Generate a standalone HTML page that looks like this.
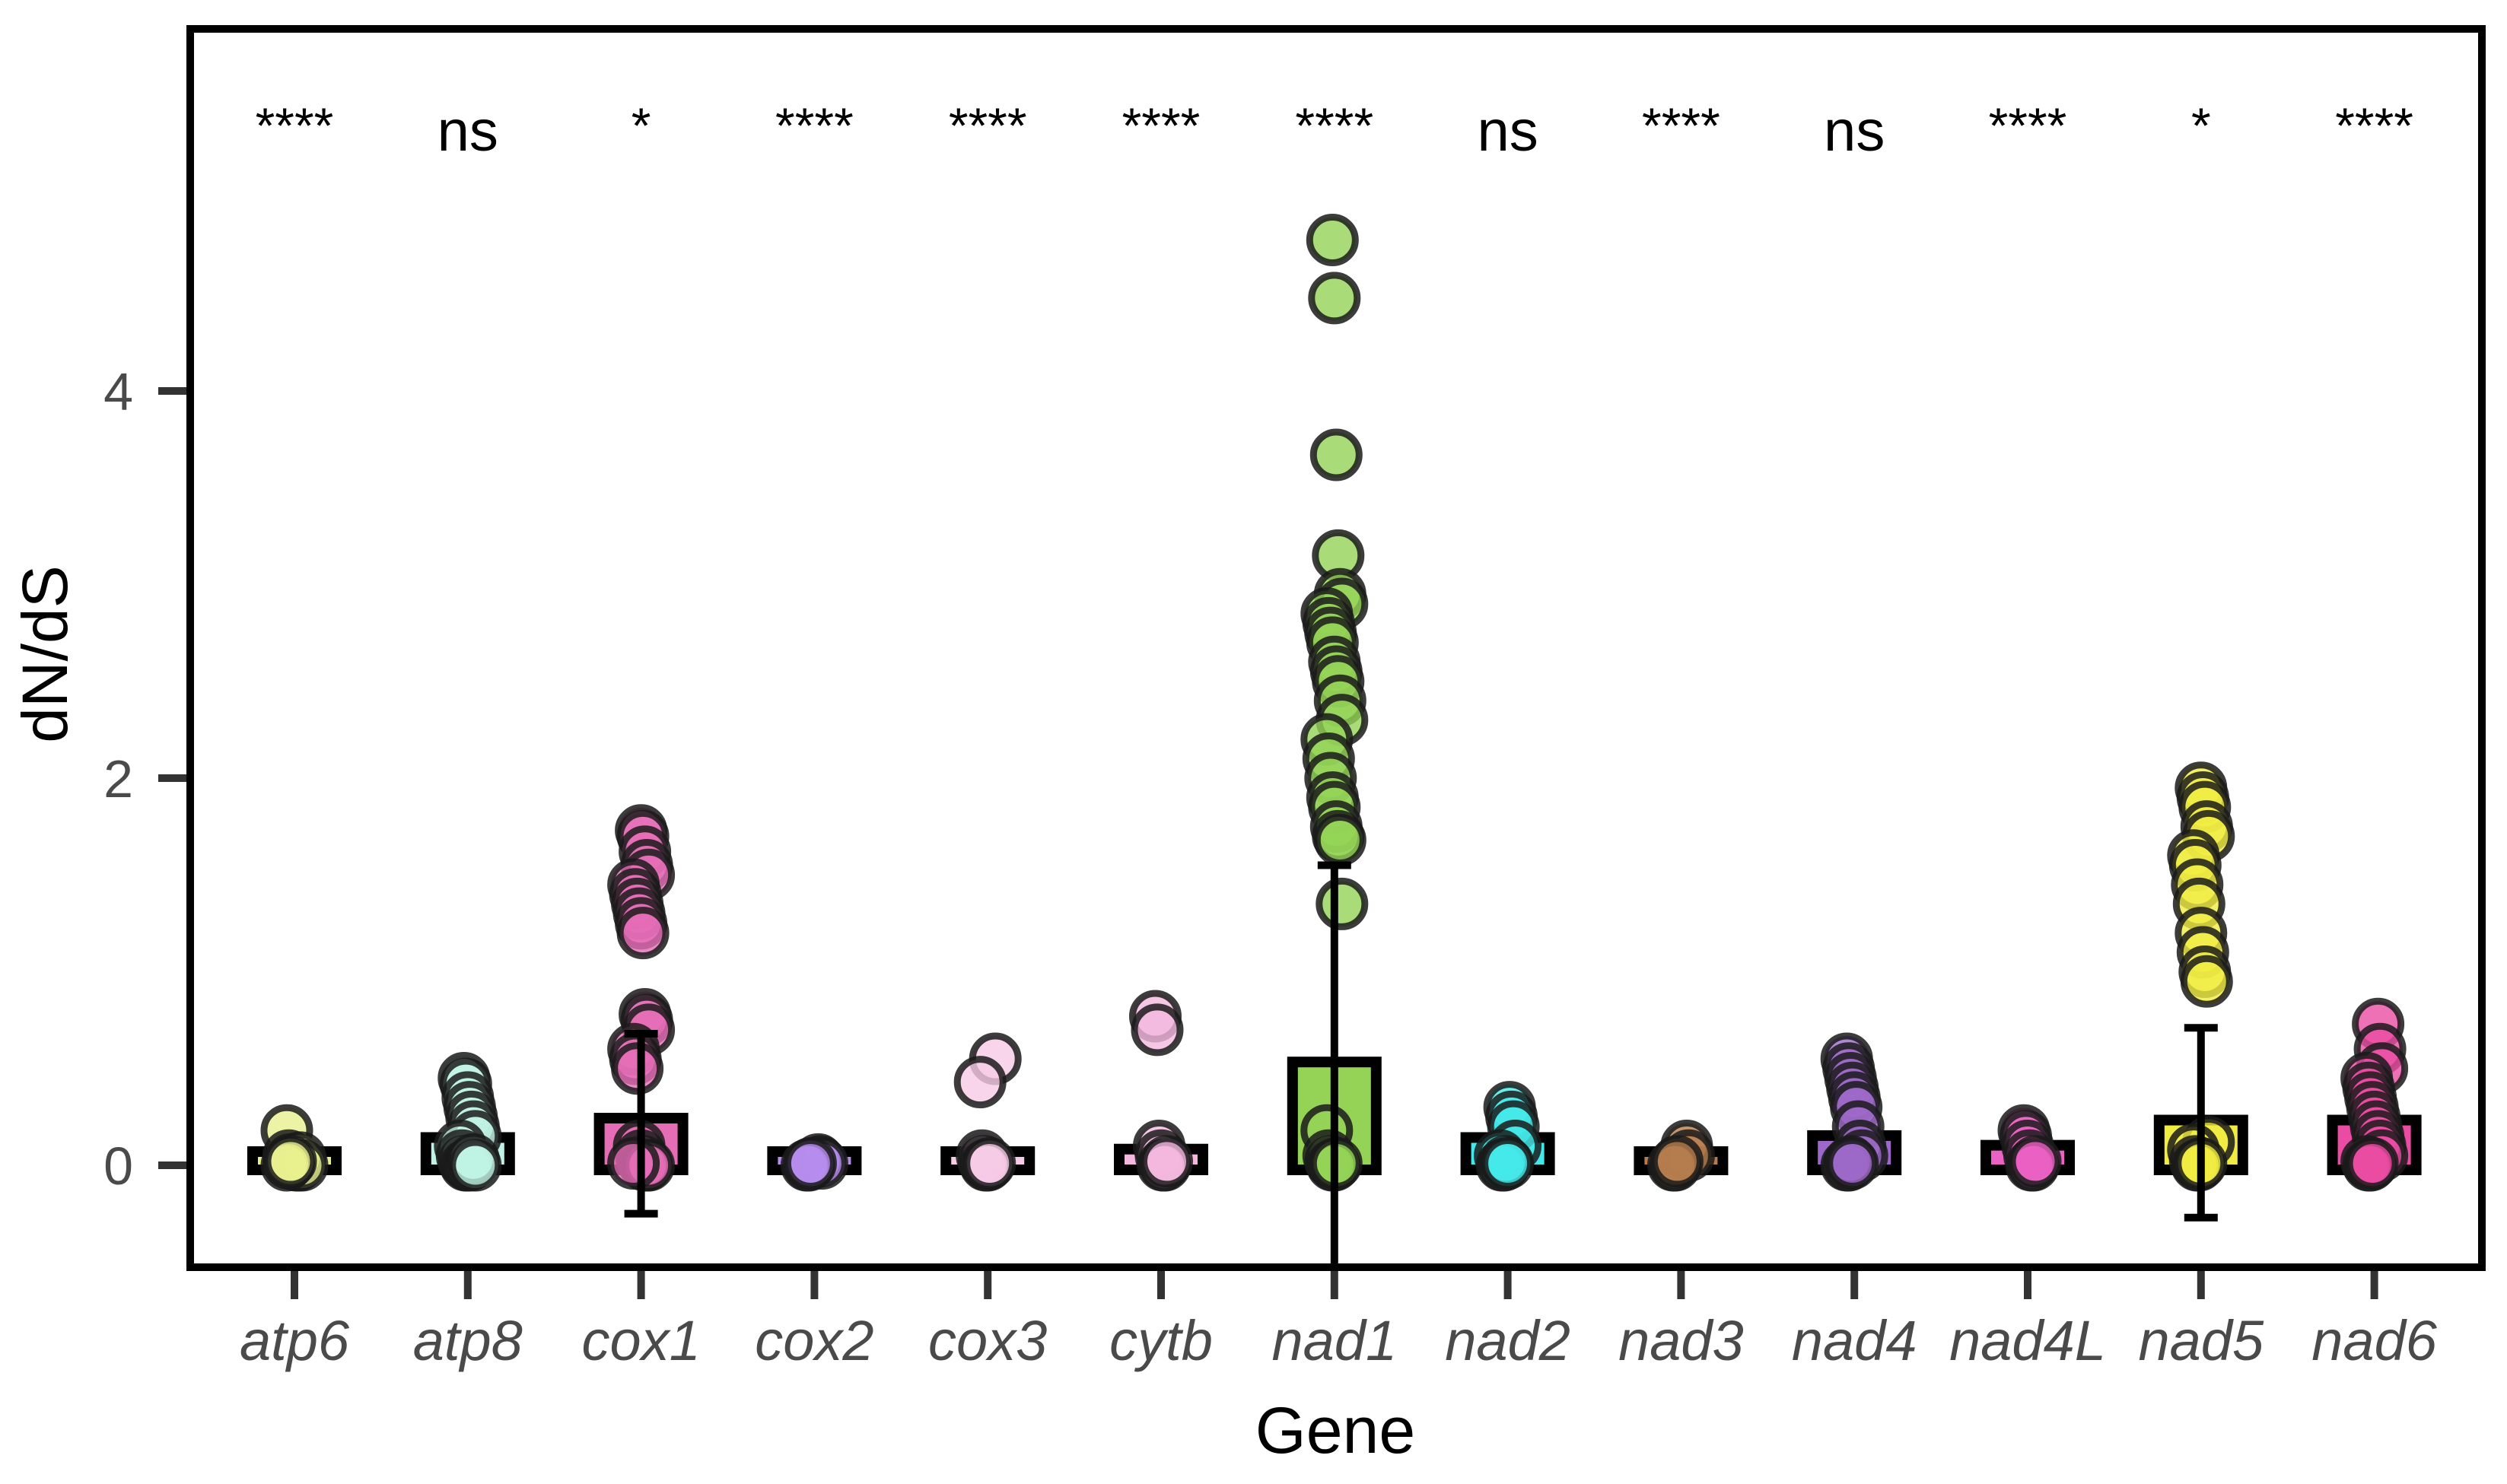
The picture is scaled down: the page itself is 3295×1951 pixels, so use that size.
<!DOCTYPE html>
<html><head><meta charset="utf-8"><style>
html,body{margin:0;padding:0;background:#fff;}
svg{display:block;font-family:"Liberation Sans",Arial,sans-serif;}
</style></head><body>
<svg id="chart" width="3295" height="1951" viewBox="0 0 3295 1951" xmlns="http://www.w3.org/2000/svg">
<rect x="0" y="0" width="3295" height="1951" fill="#fff"/>
<g id="marks"></g>
<rect x="250" y="38" width="3012" height="1628" fill="none" stroke="#000" stroke-width="10"/>
<g id="axes"></g>
<text x="1755" y="1910" font-size="86" text-anchor="middle" fill="#000">Gene</text>
<text transform="translate(88,860) rotate(-90)" font-size="84" text-anchor="middle" fill="#000">dN/dS</text>
</svg>
<script>
const genes = ["atp6","atp8","cox1","cox2","cox3","cytb","nad1","nad2","nad3","nad4","nad4L","nad5","nad6"];
const colors = ["#e8f08e","#bff2e4","#e56db6","#b68cee","#f6cbe6","#f4b8de","#94d356","#45e8e8","#b57d4d","#9d69c8","#ea62c3","#f0ec42","#ea4ca3"];
const means = [0.03,0.12,0.22,0.02,0.03,0.06,0.51,0.12,0.04,0.13,0.08,0.21,0.21];
const errLow = [null,null,-0.25,null,null,null,-0.6,null,null,null,null,-0.27,null];
const errHigh = [null,null,0.68,null,null,null,1.55,null,null,null,null,0.71,null];
const signif = ["****","ns","*","****","****","****","****","ns","****","ns","****","*","****"];
const points = [
 [0.18,0.05,0.03,0.02,0.01,0,0,0.04,0,0,0.01,0.02],
 [0.45,0.42,0.35,0.3,0.25,0.2,0.15,0.1,0.05,0.02,0,0,0,0.01,0.03,0],
 [1.73,1.7,1.62,1.55,1.5,1.45,1.4,1.35,1.3,1.25,1.2,0.78,0.75,0.7,0.6,0.55,0.5,0.1,0.05,0.02,0,0,0,0.01],
 [0.03,0.02,0.01,0,0,0.01],
 [0.55,0.43,0.05,0.02,0,0,0.01],
 [0.77,0.7,0.1,0.05,0,0,0.02],
 [4.78,4.48,3.67,3.15,2.95,2.9,2.85,2.8,2.75,2.7,2.6,2.55,2.5,2.4,2.3,2.2,2.1,2.0,1.9,1.85,1.75,1.7,1.68,1.35,0.18,0.05,0.02,0,0,0.01],
 [0.3,0.25,0.2,0.1,0.05,0,0,0.02,0.01],
 [0.1,0.05,0,0,0.02],
 [0.55,0.5,0.45,0.4,0.35,0.3,0.2,0.1,0.05,0,0,0.02,0.01],
 [0.18,0.15,0.1,0.05,0,0,0.02],
 [1.95,1.9,1.85,1.75,1.7,1.6,1.55,1.45,1.35,1.2,1.1,1.0,0.95,0.12,0.08,0.02,0,0,0.01],
 [0.73,0.6,0.5,0.45,0.4,0.35,0.3,0.25,0.2,0.15,0.1,0.05,0.02,0,0,0.01]
];
const yTicks = [0,2,4];
const NS="http://www.w3.org/2000/svg";
const x0=387, dx=227.8;
function xScale(i){return x0+i*dx;}
function yScale(v){return 1532-v*254.5;}
const marks=document.getElementById('marks');
const axes=document.getElementById('axes');
function mk(tag,attrs,parent){const e=document.createElementNS(NS,tag);for(const k in attrs)e.setAttribute(k,attrs[k]);parent.appendChild(e);return e;}
const clip=mk('clipPath',{id:'pc'},marks);mk('rect',{x:250,y:38,width:3012,height:1628},clip);
const g=mk('g',{'clip-path':'url(#pc)'},marks);
genes.forEach((gname,i)=>{
  const cx=xScale(i);
  const y0=yScale(0), ym=yScale(means[i]);
  const bar=mk('rect',{x:cx-55,y:Math.min(ym,y0-12)-6,width:110,height:Math.max(y0-ym,12)+12,fill:colors[i],stroke:'#000','stroke-width':14},g);
  
  
  points[i].forEach((v,j)=>{
    const jit=((j*37+i*11)%9-4)*2.5;
    const c=mk('circle',{cx:cx+jit,cy:yScale(v),r:30,fill:colors[i],'fill-opacity':0.8,stroke:'#1a1a1a','stroke-opacity':0.85,'stroke-width':9},g);
    
    
  });
  if(errHigh[i]!==null){
    const l=mk('line',{x1:cx,x2:cx,y1:yScale(errHigh[i]),y2:yScale(errLow[i]),stroke:'#000','stroke-width':10},g);
    
    
    mk('line',{x1:cx-22,x2:cx+22,y1:yScale(errHigh[i]),y2:yScale(errHigh[i]),stroke:'#000','stroke-width':10},g);
    mk('line',{x1:cx-22,x2:cx+22,y1:yScale(errLow[i]),y2:yScale(errLow[i]),stroke:'#000','stroke-width':10},g);
  }
  const s=signif[i];
  const t=mk('text',{x:cx,y:s==='ns'?198:188,'font-size':s==='ns'?76:66,'text-anchor':'middle',fill:'#000'},marks);
  t.textContent=s;
  
  
  const tk=mk('line',{x1:cx,x2:cx,y1:1671,y2:1708,stroke:'#333','stroke-width':10},axes);
  
  
  const tl=mk('text',{x:cx,y:1788,'font-size':74,'font-style':'italic','text-anchor':'middle',fill:'#4a4a4a'},axes);
  tl.textContent=gname;
  
  
});
yTicks.forEach(v=>{
  const y=yScale(v);
  const tk=mk('line',{x1:208,x2:245,y1:y,y2:y,stroke:'#333','stroke-width':10},axes);
  
  
  const tl=mk('text',{x:175,y:y+25,'font-size':70,'text-anchor':'end',fill:'#4a4a4a'},axes);
  tl.textContent=v;
  
  
});
</script>
</body></html>
